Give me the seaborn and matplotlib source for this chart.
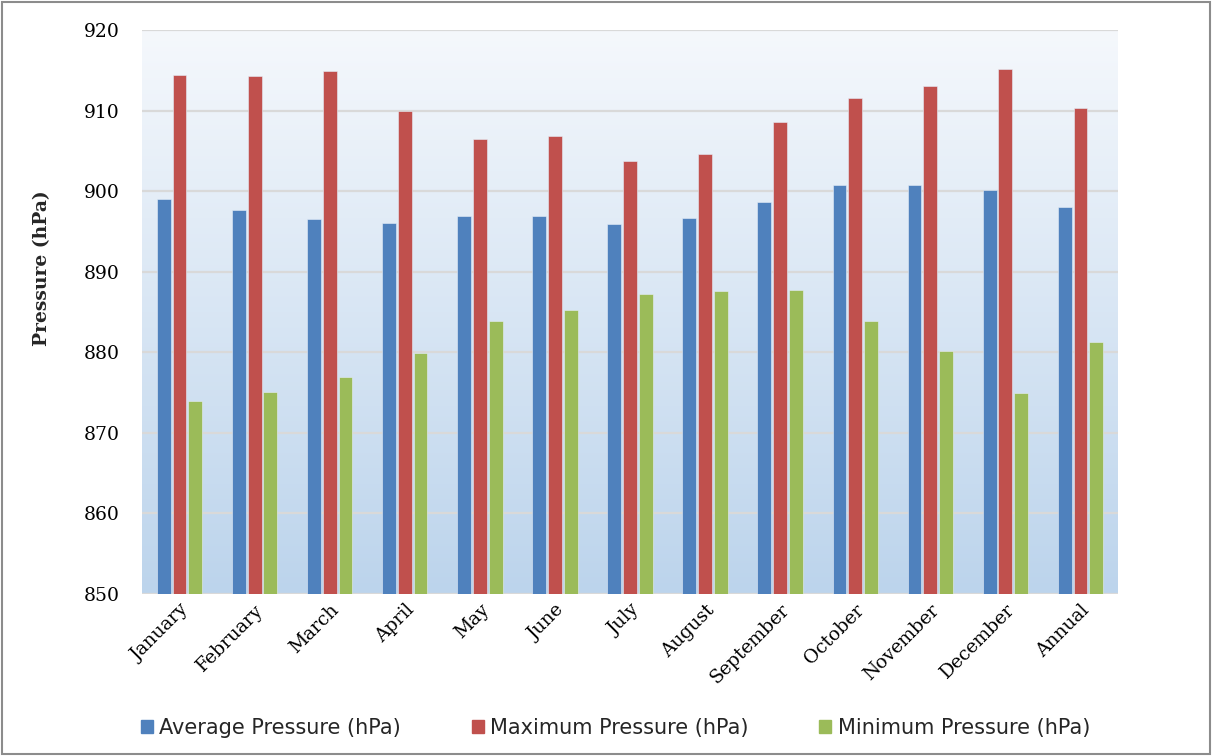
import numpy as np
import pandas as pd
import matplotlib
matplotlib.use("Agg")
import matplotlib.pyplot as plt
from matplotlib.colors import LinearSegmentedColormap
from matplotlib.patches import Rectangle
from matplotlib.font_manager import FontProperties
import seaborn as sns

months = ["January", "February", "March", "April", "May", "June", "July",
          "August", "September", "October", "November", "December", "Annual"]
avg_pressure = [899.0, 897.6, 896.6, 896.1, 896.9, 896.9, 895.9, 896.7,
                898.7, 900.8, 900.8, 900.1, 898.0]
max_pressure = [914.4, 914.3, 914.9, 909.9, 906.5, 906.9, 903.8, 904.6,
                908.6, 911.6, 913.0, 915.1, 910.3]
min_pressure = [874.0, 875.1, 876.9, 879.9, 883.9, 885.2, 887.2, 887.6,
                887.7, 883.9, 880.1, 875.0, 881.3]
series_names = ["Average Pressure (hPa)", "Maximum Pressure (hPa)",
                "Minimum Pressure (hPa)"]
colors = ["#4f81bd", "#c0504d", "#9bbb59"]

df = pd.DataFrame({
    "Month": months * 3,
    "Pressure": avg_pressure + max_pressure + min_pressure,
    "Series": [s for s in series_names for _ in months],
})

sns.set_theme(style="white")
plt.rcParams["font.family"] = ["DejaVu Serif"]

fig = plt.figure(figsize=(12.12, 7.56), dpi=100)
ax = fig.add_axes([142 / 1212, 1 - 594 / 756, 976 / 1212, 564 / 756])

# vertical gradient background of the plot area
grad = np.linspace(0, 1, 256).reshape(-1, 1)
cmap = LinearSegmentedColormap.from_list("bg", ["#bcd4ec", "#f5f8fc"])
ax.imshow(grad, cmap=cmap, aspect="auto", origin="lower",
          extent=[0, 1, 0, 1], transform=ax.transAxes, zorder=0)

sns.barplot(data=df, x="Month", y="Pressure", hue="Series",
            palette=colors, saturation=1, width=0.63, gap=0.12, ax=ax,
            zorder=3, edgecolor="#e6eef8", linewidth=0.4)

ax.set_ylim(850, 920)
ax.set_xlim(-0.5, len(months) - 0.5)
ax.set_yticks(range(850, 921, 10))
for y in range(850, 921, 10):
    ax.axhline(y, color="#d9d9d9", lw=1.6, zorder=1)
for s in ax.spines.values():
    s.set_visible(False)

ax.tick_params(axis="both", length=0, labelsize=13.5, colors="black")
ax.tick_params(axis="y", pad=16)
ax.tick_params(axis="x", pad=5)
plt.setp(ax.get_xticklabels(), rotation=45, ha="right",
         rotation_mode="anchor")
ax.set_xlabel("")
ax.set_ylabel("Pressure (hPa)", fontsize=13.5, fontweight="bold")
ax.yaxis.set_label_coords(-0.093, 0.578)

ax.legend_.remove()
handles = [Rectangle((0, 0), 1, 1, color=c) for c in colors]
legend_font = FontProperties(family="DejaVu Sans", size=15)
fig.legend(handles, series_names, loc="center left", ncol=3,
           bbox_to_anchor=(122 / 1212, 1 - 728 / 756), frameon=False,
           handlelength=0.58, handleheight=0.58,
           handletextpad=0.3, columnspacing=3.4, prop=legend_font)

fig.patches.append(Rectangle((0.002, 0.003), 0.996, 0.994, transform=fig.transFigure,
                             fill=False, edgecolor="#8c8c8c", lw=1.5))

fig.savefig("out.png", dpi=100, facecolor="white")
